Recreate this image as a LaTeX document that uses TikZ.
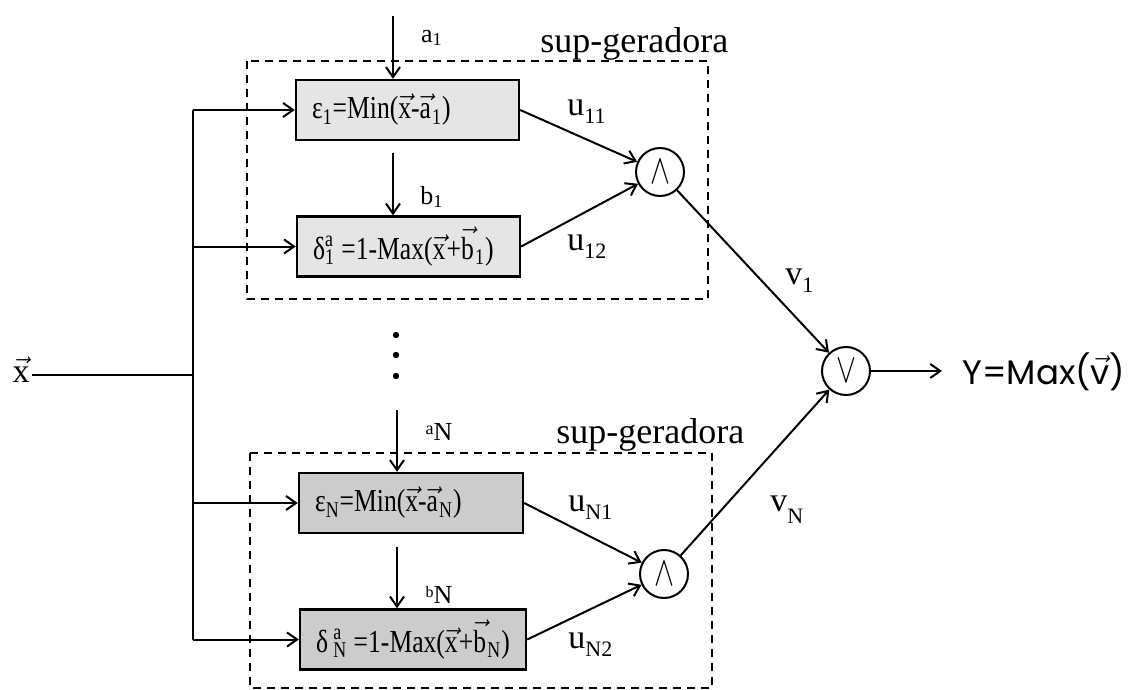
\documentclass[tikz,border=0pt]{standalone}
\usepackage{graphicx}
\usepackage{fontspec}
\setmainfont{Liberation Serif}
\newfontfamily\boxfont[FakeStretch=0.8]{Liberation Serif}
\newfontfamily\yfont{Poppins}
\usetikzlibrary{arrows.meta}
\newcommand\vvec[1]{$\vec{\mbox{#1}}$}
\newcommand\lsub[2]{#1\raisebox{-4pt}{\fontsize{11}{11}\selectfont #2}}
\newcommand\boxtext[2]{\makebox[#1][l]{#2}}
\definecolor{lightbox}{gray}{0.90}
\definecolor{darkbox}{gray}{0.80}
\begin{document}
\begin{tikzpicture}[x=0.5pt,y=-0.5pt,
  ln/.style={line width=1pt},
  arr/.style={line width=1pt,-{Straight Barb[length=5pt,width=7pt]}},
  fbox/.style={draw,line width=1.2pt,inner xsep=8pt,inner ysep=0pt,
    minimum height=30pt,font=\boxfont\fontsize{16}{18}\selectfont},
  gate/.style={draw,circle,line width=1pt,minimum size=24pt,inner sep=0pt},
  dbox/.style={draw,dashed,line width=1pt,dash pattern=on 4pt off 3pt},
  lab/.style={inner sep=0pt,font=\fontsize{13}{13}\selectfont},
  ulab/.style={inner sep=0pt,anchor=west,font=\fontsize{17}{17}\selectfont},
  title/.style={inner sep=0pt,anchor=base west,font=\fontsize{18}{18}\selectfont}]
\useasboundingbox (0,0) rectangle (1130,690);
\fill[white] (0,0) rectangle (1130,690);

% dashed groups
\draw[dbox] (247,61) rectangle (708,299);
\draw[dbox] (250,453) rectangle (712,688);
\node[title] (sg1) at (540,53) {sup-geradora};
\node[title] (sg2) at (556,443) {sup-geradora};

% boxes
\node[fbox,fill=lightbox,minimum width=111.5pt] (box1) at (407.5,110)
  {\boxtext{95.5pt}{ε\textsubscript{1}=Min(\vvec{x}-\vvec{a}\kern0.6pt\textsubscript{1})}};
\node[fbox,fill=lightbox,minimum width=111.5pt] (box2) at (408.5,246.5)
  {\boxtext{95.5pt}{δ\rlap{\textsuperscript{a}}\textsubscript{1} =1-Max(\vvec{x}\kern0.6pt+\vvec{b}\kern0.6pt\textsubscript{1})}};
\node[fbox,fill=darkbox,minimum width=112pt] (boxN1) at (411,503)
  {\boxtext{96pt}{ε\textsubscript{N}=Min(\vvec{x}-\vvec{a}\kern0.6pt\textsubscript{N})}};
\node[fbox,fill=darkbox,minimum width=113pt] (boxN2) at (413,639.5)
  {\boxtext{97pt}{δ\,\rlap{\textsuperscript{a}}\textsubscript{N} =1-Max(\vvec{x}\kern0.6pt+\vvec{b}\kern0.6pt\textsubscript{N})}};

% gates
\node[gate] (and1) at (660,172) {\scalebox{1.5}[2.1]{$\wedge$}};
\node[gate] (andN) at (664,574) {\scalebox{1.5}[2.1]{$\wedge$}};
\node[gate] (or) at (846,371) {\scalebox{1.5}[2.1]{$\vee$}};

% input
\node[inner sep=1pt,font=\fontsize{17}{17}\selectfont] (xin) at (21,370) {\vvec{x}};
\coordinate (split) at (193,375);
\draw[ln] (xin.east |- split) -- (split);
\draw[ln] (box1.west -| split) -- (boxN2.west -| split);
\draw[arr] (box1.west -| split) -- (box1.west);
\draw[arr] (box2.west -| split) -- (box2.west);
\draw[arr] (boxN1.west -| split) -- (boxN1.west);
\draw[arr] (boxN2.west -| split) -- (boxN2.west);

% parameter arrows
\coordinate (a1s) at (393,16);
\coordinate (b1s) at (393,153);
\coordinate (aNs) at (397,410);
\coordinate (bNs) at (397,547);
\draw[arr] (a1s) -- (a1s |- box1.north);
\draw[arr] (b1s) -- (b1s |- box2.north);
\draw[arr] (aNs) -- (aNs |- boxN1.north);
\draw[arr] (bNs) -- (bNs |- boxN2.north);
\node[lab] (la1) at (432,38) {a\textsubscript{1}};
\node[lab] (lb1) at (432,197) {b\textsubscript{1}};
\node[lab] (laN) at (439,432) {\raisebox{3pt}{\fontsize{9}{9}\selectfont a}N};
\node[lab] (lbN) at (439,595) {\raisebox{3pt}{\fontsize{8}{8}\selectfont b}N};

% dots
\fill (396,335) circle (1.6pt);
\fill (396,355) circle (1.6pt);
\fill (396,376) circle (1.6pt);

% connections to gates
\draw[arr] (box1.east) -- (and1);
\draw[arr] (box2.east) -- (and1);
\draw[arr] (boxN1.east) -- (andN);
\draw[arr] (boxN2.east) -- (andN);
\draw[arr] (and1) -- (or);
\draw[arr] (andN) -- (or);
\coordinate (yend) at (942,371);
\draw[arr] (or) -- (yend);
\node[inner sep=0pt,anchor=west,font=\yfont\fontsize{17}{17}\selectfont] (yout) at (962,372)
  {Y=Max(\vvec{v})};

% labels
\node[ulab] (u11) at (567,112) {\lsub{u}{11}};
\node[ulab] (u12) at (567,247) {\lsub{u}{12}};
\node[ulab] (uN1) at (568,508) {\lsub{u}{N1}};
\node[ulab] (uN2) at (568,645) {\lsub{u}{N2}};
\node[ulab] (v1) at (785,281) {\lsub{v}{1}};
\node[ulab] (vN) at (770,510) {v\raisebox{-6pt}{\fontsize{11}{11}\selectfont N}};
\end{tikzpicture}
\end{document}
